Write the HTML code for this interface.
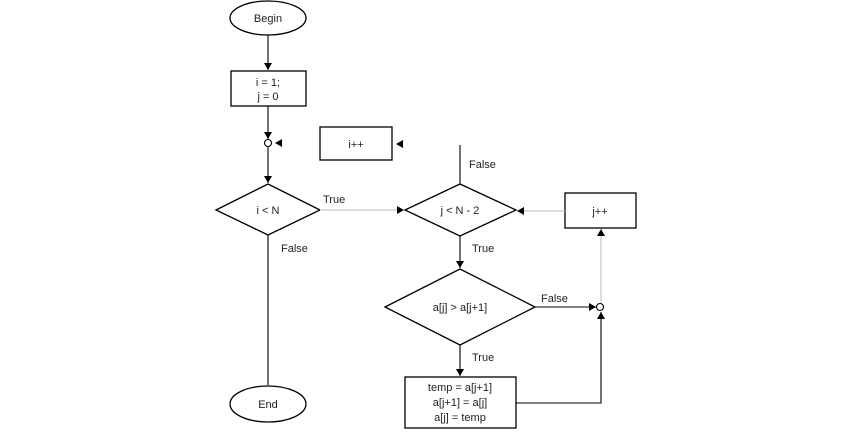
<!DOCTYPE html>
<html><head><style>body{margin:0;background:#fff}svg{display:block}text{font-family:"Liberation Sans",sans-serif;font-size:11px;fill:#222}</style></head><body>
<svg width="850" height="446" viewBox="0 0 850 446">
<defs><marker id="a" markerWidth="8" markerHeight="8" refX="7" refY="4" orient="auto" markerUnits="userSpaceOnUse"><path d="M0,0L7,4L0,8z" fill="#000"/></marker></defs>
<g stroke="#000" stroke-width="1.3" fill="#fff">
<ellipse cx="268" cy="18" rx="38" ry="17"/>
<rect x="231" y="71" width="75" height="35"/>
<rect x="320" y="127" width="72" height="33"/>
<polygon points="216,210 268,184 320,210 268,235"/>
<ellipse cx="268" cy="404" rx="38" ry="18"/>
<polygon points="405,210 460,184 516,210 460,236"/>
<rect x="565" y="193" width="71" height="35"/>
<polygon points="385,307 460,269 535,307 460,345"/>
<rect x="405" y="377" width="111" height="51"/>
</g>
<g stroke="#000" stroke-width="1.1" fill="none">
<line x1="268" y1="35" x2="268" y2="70" marker-end="url(#a)"/>
<line x1="268" y1="106" x2="268" y2="139" marker-end="url(#a)"/>
<circle cx="268" cy="143" r="3.5" fill="#fff"/>
<line x1="268" y1="147" x2="268" y2="183" marker-end="url(#a)"/>
<line x1="268" y1="235" x2="268" y2="385"/>
<line x1="460" y1="145" x2="460" y2="184"/>
<line x1="460" y1="236" x2="460" y2="268" marker-end="url(#a)"/>
<line x1="460" y1="345" x2="460" y2="376" marker-end="url(#a)"/>
<line x1="535" y1="307" x2="596" y2="307" marker-end="url(#a)"/>
<circle cx="600" cy="307" r="3.5" fill="#fff"/>
<polyline points="516,403 601,403 601,312" marker-end="url(#a)"/>
</g>
<g stroke="#bbb" stroke-width="1" fill="none">
<line x1="320" y1="210" x2="404" y2="210" marker-end="url(#a)"/>
<line x1="565" y1="211" x2="517" y2="211" marker-end="url(#a)"/>
<line x1="601" y1="303" x2="601" y2="229" marker-end="url(#a)"/>
</g>
<path d="M282,139L275,143L282,147z M403,140L396,144L403,148z"/>
<g text-anchor="middle">
<text x="268" y="22">Begin</text>
<text x="268" y="86">i = 1;</text>
<text x="268" y="100">j = 0</text>
<text x="356" y="148">i++</text>
<text x="268" y="214">i &lt; N</text>
<text x="268" y="408">End</text>
<text x="460" y="214">j &lt; N - 2</text>
<text x="600" y="215">j++</text>
<text x="460" y="311">a[j] &gt; a[j+1]</text>
<text x="460" y="391">temp = a[j+1]</text>
<text x="460" y="406">a[j+1] = a[j]</text>
<text x="460" y="421">a[j] = temp</text>
</g>
<text x="323" y="203">True</text>
<text x="281" y="252">False</text>
<text x="469" y="168">False</text>
<text x="472" y="252">True</text>
<text x="541" y="302">False</text>
<text x="472" y="361">True</text>
</svg>
</body></html>
